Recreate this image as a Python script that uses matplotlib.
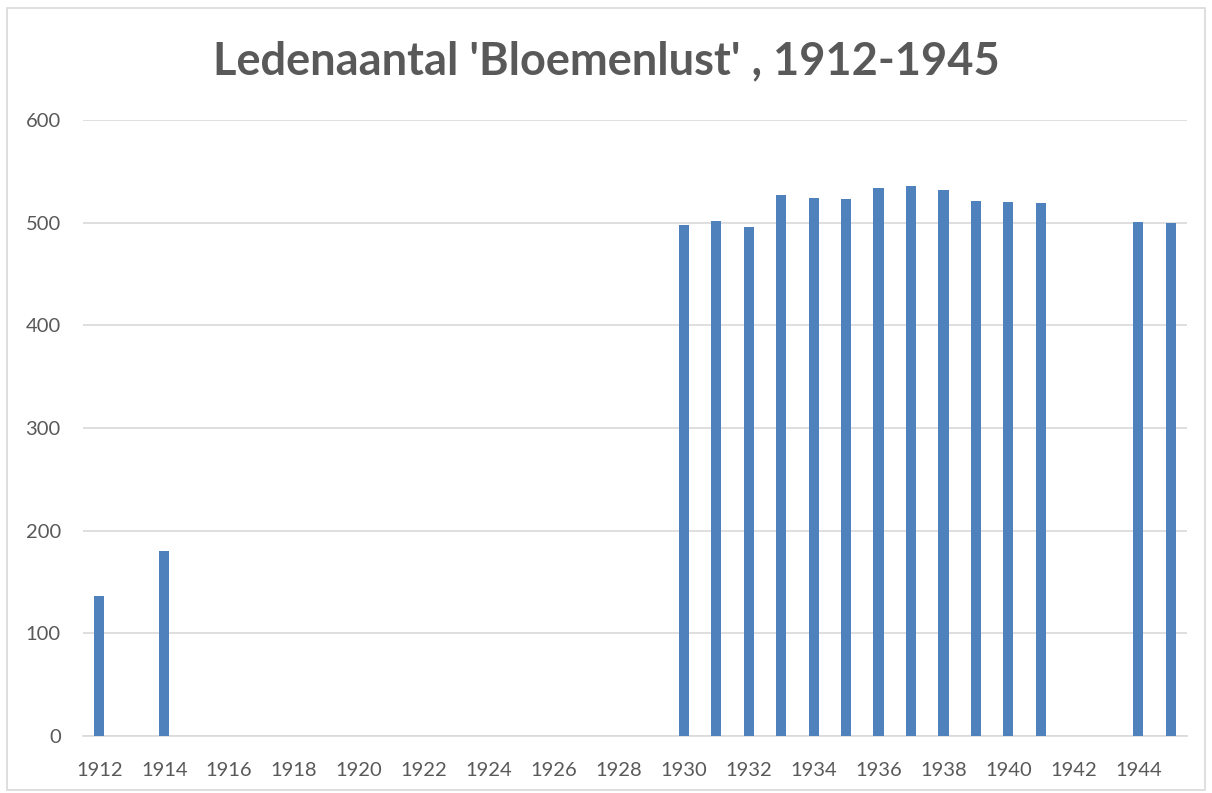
import numpy as np
import matplotlib.pyplot as plt
from matplotlib.patches import Rectangle

# DATA (members per year, gaps = no data)
years = list(range(1912, 1946))
members = {
    1912: 136, 1914: 180,
    1930: 498, 1931: 502, 1932: 496, 1933: 527, 1934: 524, 1935: 523,
    1936: 534, 1937: 536, 1938: 532, 1939: 521, 1940: 520, 1941: 519,
    1944: 501, 1945: 500,
}
values = [members.get(y, 0) for y in years]
tick_years = [str(y) if (y - 1912) % 2 == 0 else "" for y in years]

TEXT = "#595959"
GRID = "#d9d9d9"
BAR = "#4f81bd"

plt.rcParams['font.family'] = ['Lato', 'DejaVu Sans']

fig = plt.figure(figsize=(12.12, 7.93), dpi=100)
ax = fig.add_axes([83 / 1212, 1 - 736 / 793, (1187 - 83) / 1212, (736 - 120) / 793])

x = np.arange(len(years))
ax.bar(x, values, width=0.31, color=BAR, zorder=3)

ax.set_xlim(-0.5, len(years) - 0.5)
ax.set_ylim(0, 600)
ax.set_yticks(range(0, 601, 100))
ax.set_xticks(x)
ax.set_xticklabels(tick_years)

ax.grid(axis='y', color=GRID, linewidth=1.2, zorder=0)
for s in ['top', 'right', 'left']:
    ax.spines[s].set_visible(False)
ax.spines['bottom'].set_color(GRID)
ax.spines['bottom'].set_linewidth(1.2)
ax.tick_params(axis='both', length=0, colors=TEXT, labelsize=14.5)
ax.tick_params(axis='y', pad=16)
ax.tick_params(axis='x', pad=19)

fig.text(0.5, 1 - 61 / 793, "Ledenaantal 'Bloemenlust' , 1912-1945",
         ha='center', va='center', fontsize=32.5, fontweight='bold', color=TEXT)

# chart border like the spreadsheet frame
fig.patches.append(Rectangle((7 / 1212, 1 - 790 / 793), (1205 - 7) / 1212, (790 - 8) / 793,
                             transform=fig.transFigure, fill=False,
                             edgecolor=GRID, linewidth=1.2))

fig.savefig("out.png", dpi=100)
